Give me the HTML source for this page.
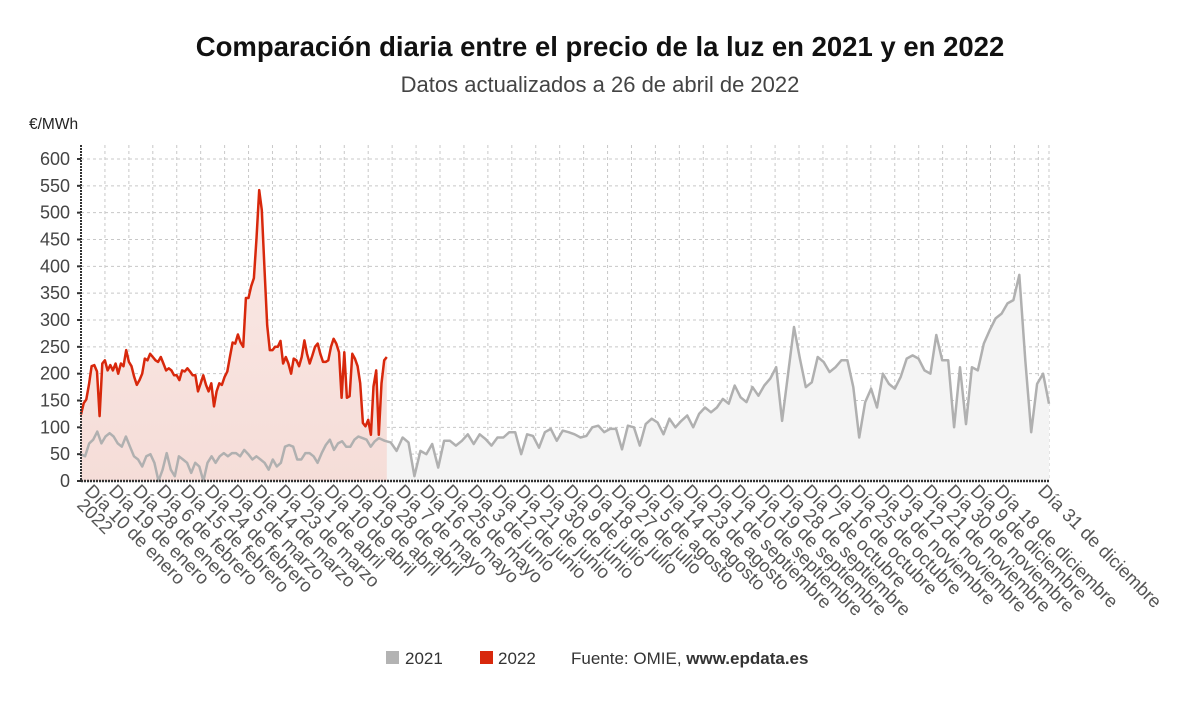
<!DOCTYPE html>
<html><head><meta charset="utf-8"><style>
body{margin:0;background:#fff;width:1200px;height:705px;overflow:hidden;font-family:"Liberation Sans",sans-serif}
</style></head><body>
<svg id="c" width="1200" height="705" xmlns="http://www.w3.org/2000/svg">
<defs>
<linearGradient id="rg" x1="0" y1="0" x2="0" y2="1"><stop offset="0" stop-color="#fbe9e6"/><stop offset="1" stop-color="#f5ddd8"/></linearGradient>
</defs>
<text x="600" y="56" text-anchor="middle" font-size="27.5" font-weight="bold" fill="#111">Comparación diaria entre el precio de la luz en 2021 y en 2022</text>
<text x="600" y="92" text-anchor="middle" font-size="22" fill="#444">Datos actualizados a 26 de abril de 2022</text>
<text x="29" y="129" font-size="15.5" fill="#222">€/MWh</text>
<g id="grid"></g><g id="areas"></g><g id="lines"></g><g id="axes"></g><g id="xl"></g>
<g>
<rect x="386" y="651" width="13" height="13" fill="#b3b3b3"/>
<text x="405" y="664" font-size="17" fill="#333">2021</text>
<rect x="480" y="651" width="13" height="13" fill="#d8280c"/>
<text x="498" y="664" font-size="17" fill="#333">2022</text>
<text x="571" y="664" font-size="17" fill="#333">Fuente: OMIE, <tspan font-weight="bold">www.epdata.es</tspan></text>
</g>
</svg>
<script>
const yTicks=[0,50,100,150,200,250,300,350,400,450,500,550,600];
const xLabels=["Día 10 de enero","Día 19 de enero","Día 28 de enero","Día 6 de febrero","Día 15 de febrero","Día 24 de febrero","Día 5 de marzo","Día 14 de marzo","Día 23 de marzo","Día 1 de abril","Día 10 de abril","Día 19 de abril","Día 28 de abril","Día 7 de mayo","Día 16 de mayo","Día 25 de mayo","Día 3 de junio","Día 12 de junio","Día 21 de junio","Día 30 de junio","Día 9 de julio","Día 18 de julio","Día 27 de julio","Día 5 de agosto","Día 14 de agosto","Día 23 de agosto","Día 1 de septiembre","Día 10 de septiembre","Día 19 de septiembre","Día 28 de septiembre","Día 7 de octubre","Día 16 de octubre","Día 25 de octubre","Día 3 de noviembre","Día 12 de noviembre","Día 21 de noviembre","Día 30 de noviembre","Día 9 de diciembre","Día 18 de diciembre"];
const values2022=[124,145,152,180,214,216,204,121,219,225,206,216,206,219,200,219,214,244,222,214,194,179,188,200,228,225,237,231,225,222,231,219,206,210,206,197,197,188,206,204,210,204,197,197,167,182,197,179,167,182,139,167,182,179,194,204,231,258,256,273,258,250,341,341,363,378,452,542,505,395,290,244,244,250,250,261,219,231,219,200,228,225,214,231,262,237,219,234,250,256,237,222,222,225,250,265,256,240,155,240,155,158,237,228,214,182,108,102,114,86,176,206,86,182,225,231];
const days2022End=115;
const values2021a=[50,46,70,77,92,70,83,89,83,70,64,83,64,46,40,27,46,50,34,0,21,52,21,9,46,40,34,15,34,27,0,34,46,34,46,52,46,52,52,46,58,50,40,46,40,34,21,40,27,34,64,67,64,40,40,52,52,46,34,52,67,77,58,70,74,64,64,77,83,80,77,64,74,80];
const values2021b=[56,75,72,56,81,72,9,56,50,69,25,75,75,66,75,87,69,87,78,66,81,81,91,91,50,87,84,62,91,97,75,94,91,87,81,84,100,103,91,97,97,59,103,100,66,106,116,109,87,116,100,112,122,100,125,137,128,137,153,144,178,156,147,175,159,178,191,212,112,200,287,228,175,184,231,222,203,212,225,225,175,81,147,172,137,200,181,172,194,228,234,228,206,200,272,225,225,100,212,106,212,206,256,281,303,312,331,337,384,225,91,181,200,144];
const split2021=112;
const NS="http://www.w3.org/2000/svg";
const X0=81,X1=1049,Y0=481,YT=159;
const xS=d=>X0+d*(X1-X0)/364;
const yS=v=>Y0-v*(Y0-YT)/600;
function mk(tag,parent,attrs){const e=document.createElementNS(NS,tag);for(const k in attrs)e.setAttribute(k,attrs[k]);document.getElementById(parent).appendChild(e);return e;}
yTicks.forEach(v=>{
 const l=mk('line','grid',{x1:X0,x2:X1,y1:yS(v),y2:yS(v),stroke:'#c8c8c8','stroke-dasharray':'3,3'});
 
 
 const t=mk('text','axes',{x:70,y:yS(v)+6,'text-anchor':'end','font-size':18,fill:'#444'});t.textContent=v;
 
 
 mk('line','axes',{x1:X0-4,x2:X0,y1:yS(v),y2:yS(v),stroke:'#333','stroke-width':2});
});
for(let d=9;d<=364;d+=9){
 const l=mk('line','grid',{x1:xS(d),x2:xS(d),y1:145,y2:Y0,stroke:'#c8c8c8','stroke-dasharray':'3,3'});
 
 
}
mk('line','grid',{x1:X1,x2:X1,y1:145,y2:Y0,stroke:'#c8c8c8','stroke-dasharray':'3,3'});
const p2021=[];
values2021a.forEach((v,i)=>p2021.push([xS(i*split2021/(values2021a.length-1)),yS(v)]));
values2021b.forEach((v,i)=>{if(i>0)p2021.push([xS(split2021+i*(364-split2021)/(values2021b.length-1)),yS(v)]);});
const p2022=values2022.map((v,i)=>[xS(i*days2022End/(values2022.length-1)),yS(v)]);
const path=p=>p.map((q,i)=>(i?'L':'M')+q[0].toFixed(1)+','+q[1].toFixed(1)).join('');
const a21=mk('path','areas',{d:path(p2021)+`L${xS(364)},${Y0}L${X0},${Y0}Z`,fill:'#f4f4f4'});


const a22=mk('path','areas',{d:path(p2022)+`L${p2022[p2022.length-1][0]},${Y0}L${X0},${Y0}Z`,fill:'url(#rg)'});


const l21=mk('path','lines',{d:path(p2021),fill:'none',stroke:'#b0b0b0','stroke-width':2.5,'stroke-linejoin':'round'});


const l22=mk('path','lines',{d:path(p2022),fill:'none',stroke:'#d8280c','stroke-width':2.5,'stroke-linejoin':'round'});


const ya=mk('line','axes',{x1:X0,x2:X0,y1:145,y2:Y0,stroke:'#333','stroke-width':2,'stroke-dasharray':'2,1'});


const xa=mk('line','axes',{x1:X0,x2:X1,y1:Y0,y2:Y0,stroke:'#333','stroke-width':2.5,'stroke-dasharray':'2,1'});


function lab(x,y,txt){const t=mk('text','xl',{x:x,y:y,'font-size':18.5,fill:'#555',transform:`rotate(45 ${x} ${y})`});t.textContent=txt;
 
 }
xLabels.forEach((s,i)=>lab(xS(9*i)+3,492,s));
lab(xS(0)-5,506,"2022");
lab(xS(364)-12,492,"Día 31 de diciembre");
</script>
</body></html>
